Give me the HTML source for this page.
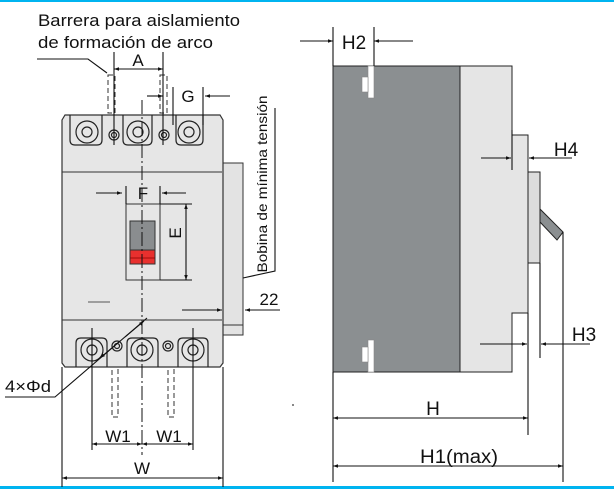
<!DOCTYPE html>
<html><head><style>
html,body{margin:0;padding:0;background:#fff}
svg{display:block}
text{font-family:"Liberation Sans","DejaVu Sans",sans-serif;fill:#111}
</style></head><body>
<svg width="614" height="498" viewBox="0 0 614 498" xmlns="http://www.w3.org/2000/svg">
<defs>
<marker id="ar" viewBox="0 0 10 10" refX="10" refY="5" markerWidth="9" markerHeight="5" orient="auto-start-reverse" markerUnits="userSpaceOnUse"><path d="M0,1.5L10,5L0,8.5z" fill="#111"/></marker>
</defs>
<rect x="0" y="0" width="614" height="2" fill="#00b4f0"/>
<rect x="0" y="486" width="614" height="3" fill="#00b4f0"/>

<!-- FRONT VIEW -->
<rect x="222" y="163" width="21" height="172" fill="#e3e3e3" stroke="#333" stroke-width="1"/>
<line x1="222" y1="325" x2="243" y2="325" stroke="#333"/>
<path d="M65,115 H220 L223,120 V363 L220,367 H65 L62,363 V120 Z" fill="#e6e6e6" stroke="#333" stroke-width="1.2"/>
<line x1="62" y1="172" x2="222" y2="172" stroke="#333"/>
<line x1="62" y1="320" x2="222" y2="320" stroke="#333"/>
<g fill="none" stroke="#222" stroke-width="1.2">
<path d="M70,115 V140 Q70,145 75,145 H97 Q102,145 102,140 V115"/>
<circle cx="87" cy="132" r="11"/><circle cx="87" cy="132" r="5"/>
<circle cx="114" cy="135" r="5"/><circle cx="114" cy="135" r="2.5"/>
<path d="M123,115 V140 Q123,145 128,145 H147 Q152,145 152,140 V115"/>
<circle cx="138" cy="132" r="11"/><circle cx="138" cy="132" r="5"/>
<circle cx="164" cy="135" r="5"/><circle cx="164" cy="135" r="2.5"/>
<path d="M176,115 V140 Q176,145 181,145 H198 Q203,145 203,140 V115"/>
<circle cx="189" cy="132" r="11"/><circle cx="189" cy="132" r="5"/>
<path d="M76,367 V343 Q76,338 81,338 H102 Q107,338 107,343 V367"/>
<circle cx="92" cy="350" r="11"/><circle cx="92" cy="350" r="5"/>
<circle cx="117" cy="346" r="5"/><circle cx="117" cy="346" r="2.5"/>
<path d="M127,367 V343 Q127,338 132,338 H153 Q158,338 158,343 V367"/>
<circle cx="142" cy="350" r="11"/><circle cx="142" cy="350" r="5"/>
<circle cx="168" cy="346" r="5"/><circle cx="168" cy="346" r="2.5"/>
<path d="M178,367 V343 Q178,338 183,338 H203 Q208,338 208,343 V367"/>
<circle cx="193" cy="350" r="11"/><circle cx="193" cy="350" r="5"/>
</g>
<!-- handle -->
<rect x="126" y="204" width="34" height="76" fill="none" stroke="#333"/>
<rect x="130" y="221" width="25" height="43" fill="#8a8d8f" stroke="#333"/>
<rect x="130" y="250" width="25" height="14" fill="#e8302e" stroke="#333"/>
<line x1="130" y1="258" x2="155" y2="258" stroke="#800" stroke-width="0.8"/>
<line x1="88" y1="302" x2="110" y2="302" stroke="#555"/>
<!-- centerline -->
<line x1="142" y1="100" x2="142" y2="455" stroke="#111" stroke-dasharray="14,3,2,3"/>
<!-- barriers -->
<g fill="none" stroke="#333" stroke-dasharray="5,3">
<rect x="108" y="75" width="7" height="38"/><rect x="160" y="75" width="7" height="38"/>
<rect x="112" y="367" width="6" height="50"/><rect x="168" y="367" width="6" height="50"/>
</g>
<g stroke="#111" stroke-width="1.1" fill="none">
<line x1="114" y1="52" x2="114" y2="145"/><line x1="163" y1="52" x2="163" y2="145"/>
<line x1="114" y1="69" x2="163" y2="69" marker-start="url(#ar)" marker-end="url(#ar)"/>
<polyline points="37,59 88,59 107,73"/>
<line x1="173" y1="87" x2="173" y2="125"/><line x1="203" y1="87" x2="203" y2="125"/>
<line x1="147" y1="96" x2="163" y2="96" marker-end="url(#ar)"/>
<line x1="230" y1="96" x2="205" y2="96" marker-end="url(#ar)"/>
<line x1="126" y1="186" x2="126" y2="204"/><line x1="160" y1="186" x2="160" y2="204"/>
<line x1="96" y1="193" x2="122" y2="193" marker-end="url(#ar)"/>
<line x1="186" y1="193" x2="162" y2="193" marker-end="url(#ar)"/>
<line x1="160" y1="204" x2="192" y2="204"/><line x1="160" y1="280" x2="192" y2="280"/>
<line x1="186" y1="204" x2="186" y2="280" marker-start="url(#ar)" marker-end="url(#ar)"/>
<polyline points="275,108 275,271 243,278"/>
<line x1="182" y1="310" x2="222" y2="310" marker-end="url(#ar)"/>
<line x1="280" y1="310" x2="245" y2="310" marker-end="url(#ar)"/>
<polyline points="5,397 55,397 147,318"/>
<line x1="120" y1="341" x2="100" y2="358" marker-end="url(#ar)"/>
<line x1="125" y1="337" x2="144" y2="321" marker-end="url(#ar)"/>
<line x1="92" y1="328" x2="92" y2="450"/><line x1="193" y1="328" x2="193" y2="450"/>
<line x1="92" y1="444" x2="142" y2="444" marker-start="url(#ar)" marker-end="url(#ar)"/>
<line x1="142" y1="444" x2="193" y2="444" marker-start="url(#ar)" marker-end="url(#ar)"/>
<line x1="62" y1="367" x2="62" y2="487"/><line x1="223" y1="367" x2="223" y2="487"/>
<line x1="62" y1="478" x2="223" y2="478" marker-start="url(#ar)" marker-end="url(#ar)"/>
</g>
<circle cx="293" cy="405" r="0.9" fill="#333"/>
<g font-size="17">
<text x="38" y="26" textLength="202" lengthAdjust="spacingAndGlyphs">Barrera para aislamiento</text>
<text x="38" y="48" textLength="175" lengthAdjust="spacingAndGlyphs">de formación de arco</text>
<text x="138" y="66" text-anchor="middle">A</text>
<text x="188" y="102" text-anchor="middle">G</text>
<text x="143" y="199" text-anchor="middle">F</text>
<text x="0" y="0" text-anchor="middle" transform="translate(181,233) rotate(-90)">E</text>
<text x="0" y="0" font-size="14" text-anchor="middle" textLength="177" lengthAdjust="spacingAndGlyphs" transform="translate(267,184) rotate(-90)">Bobina de mínima tensión</text>
<text x="269" y="305" text-anchor="middle">22</text>
<text x="5" y="392" textLength="46" lengthAdjust="spacingAndGlyphs">4×Φd</text>
<text x="118" y="442" text-anchor="middle">W1</text>
<text x="169" y="442" text-anchor="middle">W1</text>
<text x="142" y="474" text-anchor="middle">W</text>
</g>

<!-- SIDE VIEW -->
<rect x="333" y="66" width="127" height="306" fill="#8b8f91" stroke="#222"/>
<path d="M460,66 H512 V135 H528 V313 H512 V372 H460 Z" fill="#e5e5e5" stroke="#222"/>
<rect x="528" y="172" width="12" height="91" fill="#dcdcdc" stroke="#222"/>
<polygon points="540,209 563,232 557,240 540,222" fill="#8b8f91" stroke="#222"/>
<g fill="#fff" stroke="#888" stroke-width="0.6">
<rect x="368" y="66" width="6" height="32"/><rect x="362" y="77" width="6" height="15"/>
<rect x="368" y="340" width="6" height="32"/><rect x="362" y="347" width="6" height="15"/>
</g>
<g stroke="#111" stroke-width="1.1" fill="none">
<line x1="333" y1="27" x2="333" y2="66"/><line x1="374" y1="27" x2="374" y2="66"/>
<line x1="300" y1="41" x2="333" y2="41" marker-end="url(#ar)"/>
<line x1="413" y1="41" x2="374" y2="41" marker-end="url(#ar)"/>
<line x1="512" y1="130" x2="512" y2="170"/>
<line x1="481" y1="158" x2="511" y2="158" marker-end="url(#ar)"/>
<line x1="572" y1="158" x2="529" y2="158" marker-end="url(#ar)"/>
<line x1="540" y1="263" x2="540" y2="358"/>
<line x1="480" y1="344" x2="527" y2="344" marker-end="url(#ar)"/>
<line x1="590" y1="344" x2="541" y2="344" marker-end="url(#ar)"/>
<line x1="333" y1="372" x2="333" y2="482"/>
<line x1="528" y1="313" x2="528" y2="435"/>
<line x1="563" y1="232" x2="563" y2="482"/>
<line x1="333" y1="418" x2="528" y2="418" marker-start="url(#ar)" marker-end="url(#ar)"/>
<line x1="333" y1="466" x2="563" y2="466" marker-start="url(#ar)" marker-end="url(#ar)"/>
</g>
<g font-size="19">
<text x="354" y="49" text-anchor="middle">H2</text>
<text x="566" y="156" text-anchor="middle">H4</text>
<text x="584" y="341" text-anchor="middle">H3</text>
<text x="433" y="415" text-anchor="middle">H</text>
<text x="420" y="463" textLength="78" lengthAdjust="spacingAndGlyphs">H1(max)</text>
</g>
</svg>
</body></html>
